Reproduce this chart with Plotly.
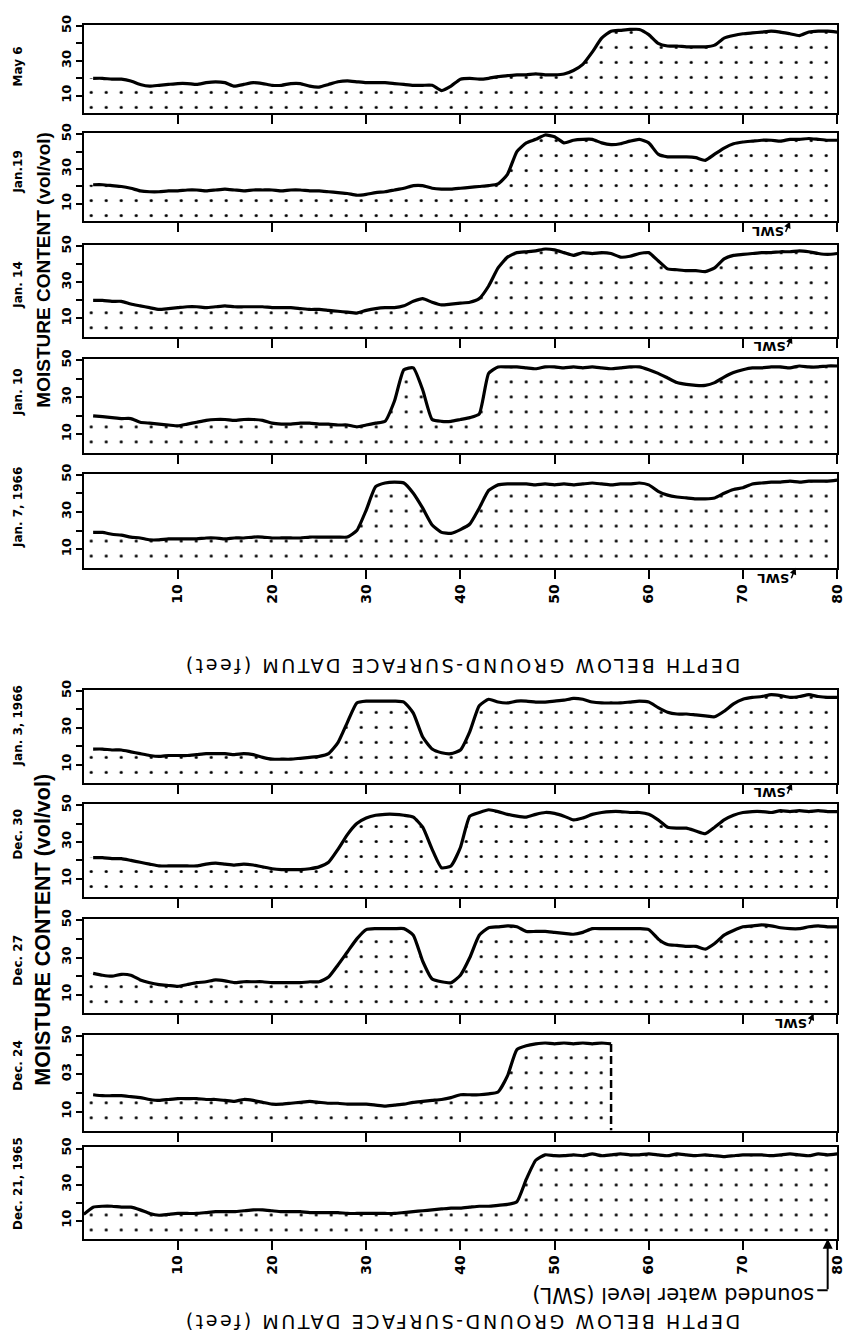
import plotly.graph_objects as go

# ---------------- data ----------------
panel_labels = ["May 6", "Jan.19", "Jan. 14", "Jan. 10", "Jan. 7, 1966",
                "Jan. 3, 1966", "Dec. 30", "Dec. 27", "Dec. 24", "Dec. 21, 1965"]

depth_full = list(range(1, 81))
depth_dec24 = list(range(1, 57))
depth_dec21 = list(range(0, 81))

may6 = [20, 20, 19.5, 19.5, 18.5, 16.5, 15.5, 16, 16.5, 17,
        17, 16.5, 17.5, 18, 17.5, 15.5, 16.5, 17.5, 17, 16,
        16, 17, 17, 15.5, 15, 16.5, 18, 18.5, 18, 17.5,
        17.5, 17.5, 17, 16.5, 16, 16, 16, 13, 15.5, 19.5,
        20, 19.5, 20, 21, 21.5, 22, 22, 22.5, 22, 22,
        22.5, 24.5, 28, 35, 43, 47, 47.5, 48, 48, 45,
        40, 38.5, 38.5, 38, 38, 38, 39, 43, 44.5, 45.5,
        46, 46.5, 47, 46.5, 45.5, 44.5, 46.5, 47, 47, 46.5]

jan19 = [21, 21, 20.5, 20, 19, 17.5, 17, 17, 17.5, 17.5,
         18, 18, 17.5, 18, 18.5, 18, 17.5, 18, 18, 18,
         17.5, 18, 18, 17.5, 17.5, 17, 16.5, 16, 15, 15.5,
         16.5, 17, 18, 19, 20.5, 20.5, 19, 18.5, 18.5, 19,
         19.5, 20, 20.5, 21.5, 27, 40, 45, 47, 49.5, 48.5,
         45, 46.5, 47, 47, 45, 44, 44.5, 46, 47, 45,
         38.5, 37, 37, 37, 36.5, 35, 38.5, 42, 44.5, 45.5,
         46, 46.5, 46.5, 46, 47, 47, 47.5, 47, 46.5, 46.5]

jan14 = [20, 20, 19.5, 19.5, 18, 17, 16, 15, 15.5, 16,
         16.5, 16.5, 16, 16.5, 17, 16.5, 16.5, 16.5, 16.5, 16,
         16, 16, 15.5, 15, 15, 14.5, 14, 13.5, 13, 14.5,
         15.5, 16, 16, 17, 19.5, 21, 19, 17.5, 18, 18.5,
         19, 21, 28, 38, 44, 46.5, 47, 47.5, 48.5, 48,
         46.5, 45, 46.5, 46, 46.5, 46, 44, 44.5, 46, 46.5,
         42, 37.5, 37, 36.5, 36.5, 36, 38, 43, 45, 45.5,
         46, 46.5, 46.5, 47, 47, 47.5, 47, 46, 45.5, 46]

jan10 = [20, 19.5, 19, 18.5, 18.5, 16.5, 16, 15.5, 15, 14.5,
         15.5, 16.5, 17.5, 18, 18, 17.5, 18, 18, 17.5, 16,
         15.5, 15.5, 16, 16, 15.5, 15.5, 15, 15, 14, 15,
         16, 17, 28, 45, 46, 34, 18, 17, 17, 18,
         19, 21, 43, 46.5, 46.5, 46.5, 46, 45.5, 46.5, 46.5,
         46, 46.5, 46, 46.5, 46, 45.5, 46, 46.5, 46.5, 45,
         43, 40.5, 38, 37, 36.5, 36.5, 38, 41, 43.5, 45,
         46, 46, 46.5, 46.5, 46, 47, 46.5, 46.5, 47, 47]

jan7 = [19, 19, 18, 17.5, 16.5, 16, 15, 15, 15.5, 15.5,
        15.5, 15.5, 16, 16, 15.5, 16, 16, 16.5, 16.5, 16,
        16, 16, 16, 16.5, 16.5, 16.5, 16.5, 16.5, 20, 31,
        43.5, 45.5, 46, 45.5, 40, 32, 23, 19, 18.5, 20.5,
        23.5, 32, 41.5, 44.5, 45, 45, 45, 44.5, 45, 44.5,
        45, 44.5, 45, 45.5, 45, 44.5, 45, 45, 45.5, 44.5,
        41, 39, 38, 37.5, 37, 37, 37.5, 40, 42, 43,
        45, 45.5, 46, 46, 46.5, 46, 46.5, 46.5, 46.5, 47]

jan3 = [18.5, 18.5, 18, 18, 17, 16, 15, 14.5, 15, 15,
        15, 15.5, 16, 16, 16, 15.5, 16, 15.5, 14, 13,
        13, 13, 13.5, 14, 14.5, 16, 22, 33, 43.5, 44.5,
        44.5, 44.5, 44.5, 44, 38, 25, 18.5, 16.5, 16, 18,
        28, 42, 45.5, 44, 43.5, 44.5, 44.5, 44, 44, 44.5,
        45, 46, 45.5, 44, 43.5, 43.5, 43.5, 44, 44.5, 44,
        41, 38.5, 37.5, 37.5, 37, 36.5, 36, 39, 43, 45.5,
        46.5, 47, 48, 47.5, 46.5, 47, 48, 47, 46.5, 46.5]

dec30 = [21.5, 21.5, 21, 21, 20, 19, 18, 17, 17, 17,
         17, 17, 18, 18.5, 18, 17.5, 18, 17.5, 16.5, 15.5,
         15, 15, 15, 15.5, 16.5, 19, 26, 34, 40, 43,
         44.5, 45, 45, 44.5, 43.5, 38, 26, 16, 17, 27,
         44, 46, 47.5, 46.5, 45, 44, 43.5, 45, 46, 45.5,
         44, 42, 43, 45, 46, 46.5, 46.5, 46, 46, 45,
         42, 38, 37.5, 37.5, 36, 34.5, 38, 42, 44.5, 46,
         46.5, 46.5, 46, 47, 46.5, 47, 46.5, 47, 46.5, 46.5]

dec27 = [21.5, 20.5, 20, 21, 20.5, 18, 16.5, 15.5, 15, 14.5,
         15.5, 16.5, 17, 18, 17.5, 16.5, 17, 17, 17, 16.5,
         16.5, 16.5, 16.5, 17, 17, 19.5, 26, 33, 40, 45,
         45.5, 45.5, 45.5, 45.5, 42, 28, 18.5, 17, 16.5, 20.5,
         30, 42, 46, 46.5, 47, 46.5, 44, 44, 44, 43.5,
         43, 42.5, 43.5, 45.5, 45.5, 45.5, 45.5, 45.5, 45.5, 45,
         40, 37, 36.5, 36, 36, 34.5, 37.5, 42, 44.5, 46.5,
         47, 47.5, 47, 46, 45.5, 45.5, 46.5, 47, 46.5, 46.5]

dec24 = [19, 18.5, 18.5, 18.5, 18, 17.5, 16.5, 16, 16.5, 17,
         17, 17, 16.5, 16.5, 16, 15.5, 16.5, 16, 15, 14,
         14, 14.5, 15, 15.5, 15, 14.5, 14.5, 14, 14, 14,
         13.5, 13, 13.5, 14, 15, 15.5, 16, 16.5, 17.5, 19,
         19, 19, 19.5, 20.5, 29, 43, 45, 46, 46.5, 46,
         46.5, 46, 46.5, 46, 46.5, 46]

dec21 = [13.5, 17.5, 18, 18, 17.5, 17.5, 16, 14, 13, 13.5, 14,
         14, 14, 14.5, 15, 15, 15, 15.5, 16, 16, 15.5,
         15, 15, 15, 14.5, 14.5, 14.5, 14.5, 14, 14, 14,
         14, 14, 14, 14.5, 15, 15.5, 16, 16.5, 17, 17,
         17.5, 18, 18, 18.5, 19, 20.5, 33, 43.5, 46.5, 46,
         46, 46.5, 46, 47, 46, 46.5, 47, 46.5, 46.5, 47,
         46.5, 46, 47, 46.5, 46, 46.5, 46, 45.5, 46, 46.5,
         46.5, 46.5, 46, 46.5, 47, 46.5, 46, 47, 46.5, 47]

series = [may6, jan19, jan14, jan10, jan7, jan3, dec30, dec27, dec24, dec21]
depths = [depth_full] * 8 + [depth_dec24, depth_dec21]

# sounded water level depth (ft) marked below some panels (panel index -> depth)
swl_depth = {1: 75.0, 2: 75.2, 4: 75.6, 5: 75.2, 7: 77.5}
swl_sounded = 79.0

x_ticks = [10, 20, 30, 40, 50, 60, 70, 80]
y_ticks = [10, 20, 30, 40, 50]
y_ticktext = ["10", "", "30", "", "50"]
y_ticktext_dec24 = ["10", "", "03", "", "50"]

# ---------------- layout geometry (pixels) ----------------
W, H = 854, 1336
XL, XR = 84.5, 845.0
panel_px = [(15, 104), (124, 213), (237, 329), (352, 446), (467, 562),
            (685, 779), (800, 894), (916, 1011), (1033, 1129), (1146, 1238)]
label_cy = [57, 163, 277, 385, 501, 721, 830, 957, 1063, 1182]


def fy(p):
    return 1 - p / H


def fx(p):
    return p / W


fig = go.Figure()
layout = dict(width=W, height=H, margin=dict(l=0, r=0, t=0, b=0),
              paper_bgcolor="white", plot_bgcolor="white", showlegend=False)
annotations = []
shapes = []

tick_font = dict(family="DejaVu Sans", size=13, color="black", weight="bold")
xtick_font = dict(family="DejaVu Sans", size=14, color="black", weight="bold")
pattern = dict(shape=".", size=15, solidity=0.035, fgcolor="black",
               bgcolor="white", fillmode="replace")

for i, (vals, dep) in enumerate(zip(series, depths)):
    n = i + 1
    xa = "x" if n == 1 else f"x{n}"
    ya = "y" if n == 1 else f"y{n}"
    top, bot = panel_px[i]
    bottom_of_group = i in (4, 9)

    layout["xaxis" if n == 1 else f"xaxis{n}"] = dict(
        domain=[fx(XL), fx(XR)], range=[0, 80], anchor=ya,
        showline=True, mirror=True, linewidth=2, linecolor="black",
        ticks="outside", tickvals=x_ticks, ticklen=9, tickwidth=2,
        tickcolor="black", showticklabels=bottom_of_group, tickangle=-90,
        tickfont=xtick_font, showgrid=False, zeroline=False, fixedrange=True)
    layout["yaxis" if n == 1 else f"yaxis{n}"] = dict(
        domain=[fy(bot), fy(top)], range=[0, 50.6], anchor=xa,
        showline=True, mirror=True, linewidth=2, linecolor="black",
        ticks="outside", tickvals=y_ticks,
        ticktext=y_ticktext_dec24 if i == 8 else y_ticktext,
        ticklen=6, tickwidth=2, tickcolor="black", tickangle=-90,
        tickfont=tick_font, showgrid=False, zeroline=False, fixedrange=True)

    # dotted fill, beginning at the left axis
    fill_x = [0] + dep if dep[0] > 0 else dep
    fill_y = [vals[0]] + vals if dep[0] > 0 else vals
    fig.add_trace(go.Scatter(x=fill_x, y=fill_y, xaxis=xa, yaxis=ya,
                             mode="lines", line=dict(width=0, shape="spline", smoothing=0.5),
                             fill="tozeroy", fillcolor="white", fillpattern=pattern,
                             hoverinfo="skip"))
    fig.add_trace(go.Scatter(x=dep, y=vals, xaxis=xa, yaxis=ya, mode="lines",
                             line=dict(color="black", width=3.2, shape="spline", smoothing=0.5)))
    if i == 8:
        fig.add_trace(go.Scatter(x=[dep[-1], dep[-1]], y=[vals[-1], 0], xaxis=xa, yaxis=ya,
                                 mode="lines", line=dict(color="black", width=2.5, dash="8px,4px")))

    # date label
    annotations.append(dict(text=panel_labels[i], xref="paper", yref="paper",
                            x=fx(18), y=fy(label_cy[i]), textangle=-90, showarrow=False,
                            font=dict(family="DejaVu Sans", size=12, color="black", weight="bold"),
                            xanchor="center", yanchor="middle"))

    # SWL markers
    if i in swl_depth:
        d = swl_depth[i]
        annotations.append(dict(text="SWL", xref=xa, yref=ya, x=d, y=0,
                                xshift=-22, yshift=-10, textangle=180, showarrow=False,
                                font=dict(family="DejaVu Sans", size=13, color="black", weight="bold"),
                                xanchor="center", yanchor="middle"))
        annotations.append(dict(text="", xref=xa, yref=ya, x=d, y=0, ax=-5, ay=12,
                                showarrow=True, arrowhead=2, arrowsize=0.9, arrowwidth=1.5,
                                arrowcolor="black"))

# group titles
for cy, fs in ((262, 19), (927, 21.5)):
    annotations.append(dict(text="MOISTURE CONTENT (vol/vol)", xref="paper", yref="paper",
                            x=fx(43), y=fy(cy), textangle=-90, showarrow=False,
                            font=dict(family="Liberation Sans", size=fs, color="black", weight="bold"),
                            xanchor="center", yanchor="middle"))
for cy in (661, 1322):
    annotations.append(dict(text='<span style="letter-spacing:2.6px">DEPTH BELOW GROUND-SURFACE DATUM (feet)</span>',
                            xref="paper", yref="paper", x=fx(466), y=fy(cy), textangle=180,
                            showarrow=False,
                            font=dict(family="DejaVu Sans", size=19, color="black"),
                            xanchor="center", yanchor="middle"))

# sounded water level note under the last panel
annotations.append(dict(text="sounded water level (SWL)", xref="paper", yref="paper",
                        x=fx(680), y=fy(1294), textangle=180, showarrow=False,
                        font=dict(family="DejaVu Sans", size=21, color="black"),
                        xanchor="center", yanchor="middle"))
annotations.append(dict(text="", xref="x10", yref="y10", x=swl_sounded, y=0, ax=0, ay=52,
                        showarrow=True, arrowhead=2, arrowsize=1, arrowwidth=2,
                        arrowcolor="black"))
shapes.append(dict(type="line", xref="x10", yref="paper", x0=swl_sounded - 1.1,
                   x1=swl_sounded, y0=fy(1290), y1=fy(1290),
                   line=dict(color="black", width=2)))

layout["annotations"] = annotations
layout["shapes"] = shapes
fig.update_layout(**layout)
fig.write_html("out.html")
